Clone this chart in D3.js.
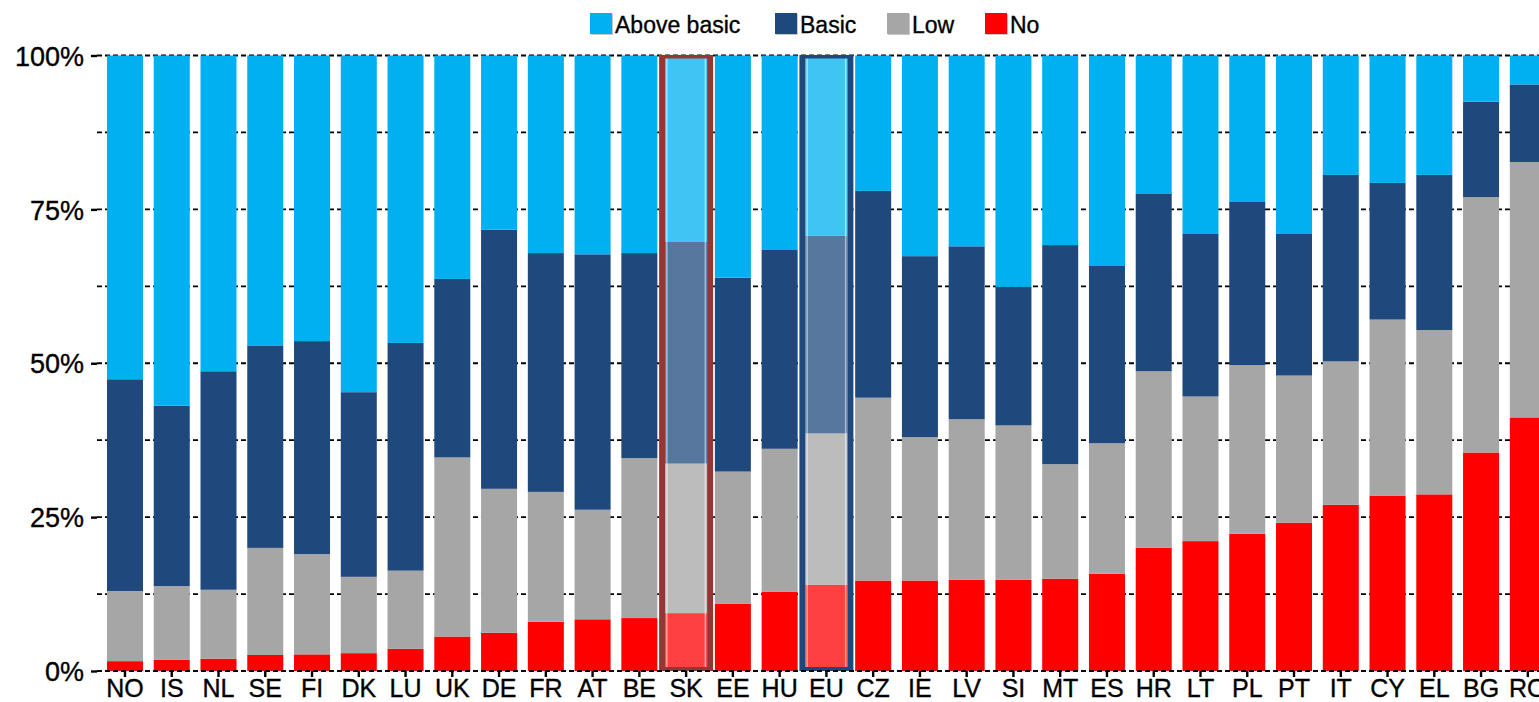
<!DOCTYPE html>
<html>
<head>
<meta charset="utf-8">
<script src="https://cdn.jsdelivr.net/npm/d3@7"></script>
<style>
  html, body { margin: 0; padding: 0; background: #fff; }
  svg { display: block; font-family: "Liberation Sans", Arial, sans-serif; }
  svg text { stroke: #000; stroke-width: 0.35px; paint-order: stroke; }
</style>
</head>
<body>
<svg id="chart" width="1539" height="702"></svg>
<script>
// Countries, ordered by the share with no skills
const categories = ["NO","IS","NL","SE","FI","DK","LU","UK","DE","FR","AT","BE","SK","EE","HU","EU",
  "CZ","IE","LV","SI","MT","ES","HR","LT","PL","PT","IT","CY","EL","BG","RO"];

// Share of each skill level (%), bottom to top of each bar
const noSkills    = [1.6,1.8,2.0,2.6,2.7,2.9,3.6,5.6,6.2,8.0,8.4,8.6,9.4,10.9,12.9,14.0,
  14.7,14.7,14.8,14.8,15.0,15.8,20.0,21.1,22.3,24.1,27.0,28.5,28.7,35.5,41.2];
const lowSkills   = [11.4,12.0,11.2,17.4,16.3,12.4,12.7,29.1,23.4,21.1,17.8,26.0,24.3,21.5,23.2,24.6,
  29.7,23.3,26.1,25.1,18.6,21.2,28.7,23.5,27.4,23.9,23.3,28.6,26.7,41.5,41.5];
const basicSkills = [34.4,29.3,35.5,32.9,34.6,30.0,37.0,29.0,42.1,38.8,41.5,33.3,36.0,31.5,32.3,32.1,
  33.6,29.4,28.1,22.5,35.6,28.8,28.9,26.4,26.5,23.0,30.3,22.2,25.2,15.5,12.6];
const aboveBasic  = [52.6,56.9,51.3,47.1,46.4,54.7,46.7,36.3,28.3,32.1,32.3,32.1,30.3,36.1,31.6,29.3,
  22.0,32.6,31.0,37.6,30.8,34.2,22.4,29.0,23.8,29.0,19.4,20.7,19.4,7.5,4.7];

const seriesNames = ["No", "Low", "Basic", "Above basic"];
const legendOrder = ["Above basic", "Basic", "Low", "No"];
const yTickLabels = ["0%", "25%", "50%", "75%", "100%"];
const highlighted = ["SK", "EU"];

const colors = { "No": "#FF0000", "Low": "#A6A6A6", "Basic": "#1F497D", "Above basic": "#00B0F0" };
const frameColors = { "SK": "#943634", "EU": "#1F497D" };

const rows = categories.map((c, i) => ({
  country: c,
  "No": noSkills[i], "Low": lowSkills[i], "Basic": basicSkills[i], "Above basic": aboveBasic[i]
}));
// normalise each row to 100 %
rows.forEach(r => {
  const t = seriesNames.reduce((s, k) => s + r[k], 0);
  seriesNames.forEach(k => r[k] = r[k] / t * 100);
});

const stacked = d3.stack().keys(seriesNames)(rows);

const svg = d3.select("#chart");

const x = d3.scaleBand()
  .domain(categories)
  .range([101.6, 1551.2])
  .paddingInner(0.23)
  .paddingOuter(0.115);

const y = d3.scaleLinear().domain([0, 100]).range([671, 55.5]);

// dashed gridlines every 12.5 %
const gridVals = d3.range(12.5, 100.01, 12.5);
svg.append("g").selectAll("line")
  .data(gridVals).join("line")
  .attr("x1", 97).attr("x2", 1539)
  .attr("y1", d => y(d)).attr("y2", d => y(d))
  .attr("stroke", "#000").attr("stroke-width", 1.8)
  .attr("stroke-dasharray", "5,3");

// y axis: short ticks and percentage labels
const yTicks = [0, 25, 50, 75, 100];
const yAxis = d3.axisLeft(y).tickValues(yTicks)
  .tickFormat((d, i) => yTickLabels[i]).tickSize(6).tickPadding(7);
const gy = svg.append("g").attr("transform", "translate(97,0)").call(yAxis);
gy.select(".domain").remove();
gy.selectAll(".tick line").attr("stroke", "#000").attr("stroke-width", 2.4);
gy.selectAll(".tick text")
  .attr("fill", "#000")
  .style("font-size", "27px")
  .style("font-family", "'Liberation Sans', Arial, sans-serif")
  .attr("dy", "0.36em");

// regular bars
const layers = svg.append("g").selectAll("g")
  .data(stacked).join("g")
  .attr("fill", d => colors[d.key]);

layers.selectAll("rect")
  .data(d => d.filter(p => !highlighted.includes(p.data.country)))
  .join("rect")
  .attr("x", d => x(d.data.country))
  .attr("width", x.bandwidth())
  .attr("y", d => y(d[1]))
  .attr("height", d => y(d[0]) - y(d[1]));

// highlighted bars: lighter fill inside a coloured frame
const bw = x.bandwidth();
highlighted.forEach(country => {
  const cx = x(country) + bw / 2;
  const g = svg.append("g");
  const inner = 21, outer = 27;
  g.append("rect")
    .attr("x", cx - outer).attr("width", outer * 2)
    .attr("y", y(100)).attr("height", y(0) - y(100))
    .attr("fill", "#fff");
  stacked.forEach(layer => {
    const p = layer.find(d => d.data.country === country);
    g.append("rect")
      .attr("x", cx - inner).attr("width", inner * 2)
      .attr("y", y(p[1])).attr("height", y(p[0]) - y(p[1]))
      .attr("fill", colors[layer.key])
      .attr("fill-opacity", 0.75);
  });
  // faint inner edge lines
  [cx - inner + 1, cx + inner - 2.5].forEach(lx => {
    g.append("rect")
      .attr("x", lx).attr("width", 1.5)
      .attr("y", y(100)).attr("height", y(0) - y(100))
      .attr("fill", "#fff").attr("fill-opacity", 0.5);
  });
  const top = y(100) - 0.5, bottom = y(0);
  const path = `M${cx - outer},${top}H${cx + outer}V${bottom}H${cx - outer}Z` +
    `M${cx - inner},${top + 3.5}V${bottom - 4}H${cx + inner}V${top + 3.5}Z`;
  g.append("path").attr("d", path)
    .attr("fill", frameColors[country]).attr("fill-rule", "evenodd");
});

// x axis: dashed baseline with ticks and country labels
const xAxis = d3.axisBottom(x).tickSize(6).tickPadding(2);
const gx = svg.append("g").attr("transform", `translate(0,${y(0)})`).call(xAxis);
gx.select(".domain").remove();
gx.selectAll(".tick line").attr("stroke", "#000").attr("stroke-width", 2.4);
gx.selectAll(".tick text")
  .attr("fill", "#000")
  .style("font-size", "25px")
  .style("font-family", "'Liberation Sans', Arial, sans-serif");
svg.append("line")
  .attr("x1", 97).attr("x2", 1539)
  .attr("y1", y(0)).attr("y2", y(0))
  .attr("stroke", "#000").attr("stroke-width", 2.2)
  .attr("stroke-dasharray", "5,3");

// legend
const legendX = [590, 775, 887, 985];
const legend = svg.append("g").selectAll("g")
  .data(legendOrder).join("g")
  .attr("transform", (d, i) => `translate(${legendX[i]},13)`);
legend.append("rect")
  .attr("x", 1).attr("y", 1).attr("width", 22).attr("height", 21)
  .attr("fill", "#c8c8c8");
legend.append("rect")
  .attr("width", 22).attr("height", 21)
  .attr("fill", d => colors[d]);
legend.append("text")
  .attr("x", 25).attr("y", 19.5)
  .attr("fill", "#000")
  .style("font-size", "23px")
  .text(d => d);
</script>
</body>
</html>
